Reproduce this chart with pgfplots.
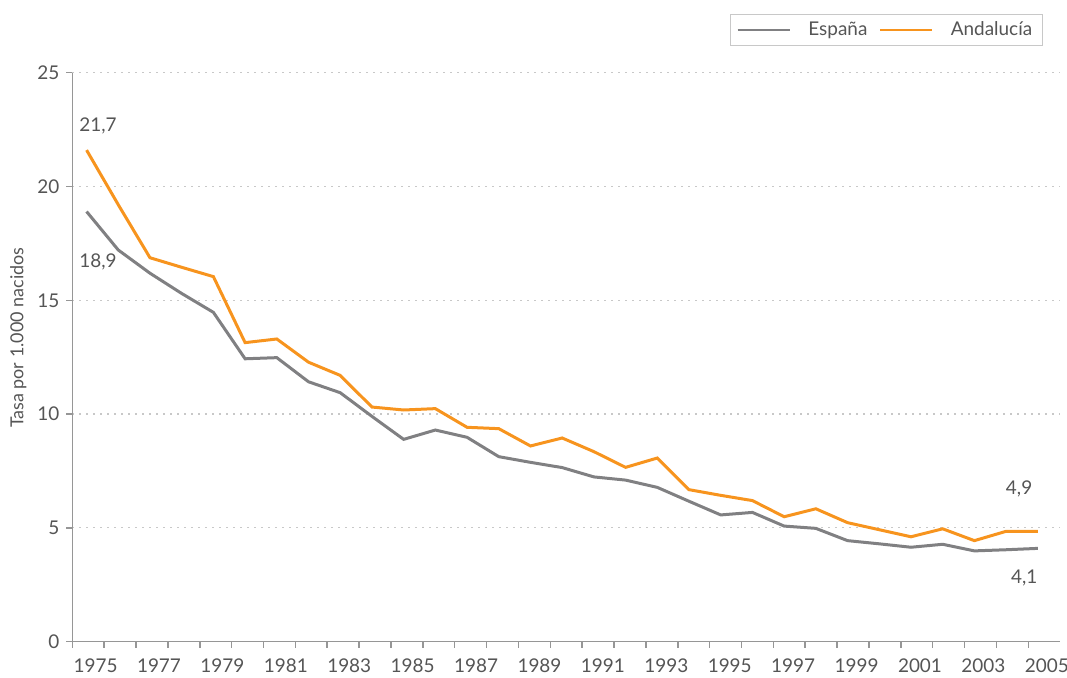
\documentclass[border=0pt]{standalone}
\usepackage{fontspec}
\setmainfont{Lato}
\usepackage{pgfplots}
\pgfplotsset{compat=1.18}
\definecolor{espana}{RGB}{128,128,130}
\definecolor{andalucia}{RGB}{247,148,30}
\definecolor{txt}{RGB}{85,85,85}
\definecolor{axisgray}{RGB}{150,150,150}
\definecolor{gridgray}{RGB}{200,200,200}

\begin{document}
\begin{tikzpicture}
\path[use as bounding box] (-36.15bp,-18.15bp) rectangle (497.35bp,320.85bp);
\begin{axis}[at={(0,0)}, anchor=south west, scale only axis,
  width=493.85bp, height=284.5bp,
  xmin=1974.55, xmax=2005.7, ymin=0, ymax=25,
  axis lines=left, axis line style={-, axisgray, line width=0.75bp},
  xtick={1975,1977,...,2005}, major x tick style={draw=none},
  minor xtick={1974.55,1975.555,...,2005.75},
  ytick={0,5,...,25}, tick align=outside,
  major tick length=3bp, minor tick length=3bp,
  tick style={axisgray, line width=0.75bp},
  xticklabel style={xshift=4.5bp, yshift=-2bp},
  /pgf/number format/assume math mode=true,
  /pgf/number format/1000 sep={},
  tick label style={font=\fontsize{9.5}{11}\selectfont, text=txt},
  ymajorgrids, grid style={gridgray, dash pattern=on 1bp off 2.5bp, line width=0.6bp},
  ylabel={Tasa por 1.000 nacidos},
  every axis y label/.style={at={(axis description cs:-0.0547,0.534)}, rotate=90, anchor=center,
    font=\fontsize{9}{11}\selectfont, text=txt},
  legend columns=2,
  legend style={at={(1,1)}, anchor=north east, xshift=-8.65bp, yshift=29.35bp,
    draw=gridgray, line width=0.5bp, font=\fontsize{9.5}{11}\selectfont, text=txt,
    inner xsep=3bp, inner ysep=1.5bp,
    /tikz/every odd column/.append style={column sep=7bp},
    /tikz/every even column/.append style={column sep=4bp}},
  legend image code/.code={\draw[#1, line width=0.75bp] (0bp,0bp) -- (26bp,0bp);},
]
\addplot[espana, line width=1.5bp] coordinates {
(1975,18.9)(1976,17.21)(1977,16.19)(1978,15.3)(1979,14.47)(1980,12.43)(1981,12.48)
(1982,11.42)(1983,10.94)(1984,9.9)(1985,8.89)(1986,9.3)(1987,8.98)(1988,8.13)
(1989,7.88)(1990,7.65)(1991,7.24)(1992,7.1)(1993,6.78)(1994,6.17)(1995,5.57)
(1996,5.68)(1997,5.08)(1998,4.98)(1999,4.44)(2000,4.3)(2001,4.15)(2002,4.28)
(2003,3.99)(2004,4.04)(2005,4.1)};
\addlegendentry{España}
\addplot[andalucia, line width=1.5bp] coordinates {
(1975,21.6)(1976,19.2)(1977,16.87)(1978,16.45)(1979,16.04)(1980,13.14)(1981,13.3)
(1982,12.28)(1983,11.7)(1984,10.31)(1985,10.18)(1986,10.24)(1987,9.42)(1988,9.36)
(1989,8.6)(1990,8.95)(1991,8.35)(1992,7.66)(1993,8.07)(1994,6.68)(1995,6.43)
(1996,6.2)(1997,5.49)(1998,5.84)(1999,5.23)(2000,4.92)(2001,4.61)(2002,4.96)
(2003,4.44)(2004,4.85)(2005,4.85)};
\addlegendentry{Andalucía}
\node[text=txt, font=\fontsize{9.5}{11}\selectfont] at (axis cs:1975.36,22.66) {21,7};
\node[text=txt, font=\fontsize{9.5}{11}\selectfont] at (axis cs:1975.36,16.68) {18,9};
\node[text=txt, font=\fontsize{9.5}{11}\selectfont] at (axis cs:2004.41,6.71) {4,9};
\node[text=txt, font=\fontsize{9.5}{11}\selectfont] at (axis cs:2004.57,2.80) {4,1};
\end{axis}
\end{tikzpicture}
\end{document}
